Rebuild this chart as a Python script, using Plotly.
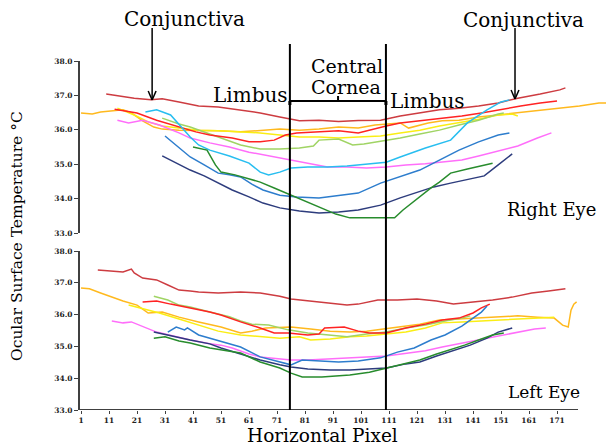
import plotly.graph_objects as go

# ---------------- data (horizontal pixel index, temperature °C) ----------------
x_ticks = [1, 11, 21, 31, 41, 51, 61, 71, 81, 91, 101, 111, 121, 131, 141, 151, 161, 171]
y_ticks = [33.0, 34.0, 35.0, 36.0, 37.0, 38.0]

# Right eye (top panel)
re_darkred_x = [10, 15, 20, 26, 30, 36, 43, 50, 58, 65, 72, 79, 86, 93, 100, 108, 115, 122, 129, 136, 143, 150, 157, 165, 172, 174]
re_darkred_t = [37.04, 36.98, 36.92, 36.87, 36.90, 36.81, 36.69, 36.66, 36.58, 36.49, 36.37, 36.26, 36.28, 36.24, 36.27, 36.28, 36.40, 36.49, 36.58, 36.63, 36.69, 36.78, 36.92, 37.04, 37.16, 37.22]
re_red_x = [13, 17, 21, 28, 36, 42, 47, 55, 61, 65, 70, 74, 78, 86, 93, 100, 105, 110, 115, 122, 130, 137, 144, 151, 158, 165, 171]
re_red_t = [36.60, 36.55, 36.49, 36.28, 36.08, 35.94, 35.85, 35.76, 35.65, 35.65, 35.70, 35.85, 35.91, 35.94, 35.97, 35.91, 36.02, 36.11, 36.20, 36.26, 36.34, 36.40, 36.49, 36.60, 36.69, 36.78, 36.84]
re_orange_x = [1, 5, 8, 13, 16, 19, 23, 27, 30, 36, 43, 50, 58, 65, 72, 79, 86, 93, 100, 106, 110, 115, 118, 121, 125, 130, 136, 143, 150, 157, 165, 172, 179, 186, 191]
re_orange_t = [36.49, 36.46, 36.52, 36.55, 36.58, 36.49, 36.26, 36.08, 36.02, 35.99, 35.99, 35.97, 35.94, 35.99, 36.02, 35.99, 36.02, 36.08, 36.05, 36.14, 36.17, 36.20, 36.05, 36.11, 36.20, 36.26, 36.28, 36.37, 36.43, 36.49, 36.58, 36.63, 36.69, 36.78, 36.78]
re_yellow_x = [14, 20, 25, 30, 36, 43, 50, 58, 65, 72, 79, 86, 93, 100, 108, 115, 122, 129, 136, 143, 150, 155, 157]
re_yellow_t = [36.63, 36.43, 36.23, 36.11, 36.05, 35.99, 35.97, 35.94, 35.91, 35.85, 35.79, 35.79, 35.76, 35.79, 35.82, 35.91, 35.99, 36.11, 36.20, 36.31, 36.43, 36.46, 36.40]
re_lightgreen_x = [30, 36, 40, 43, 50, 58, 65, 72, 79, 84, 86, 93, 98, 102, 108, 115, 122, 129, 136, 143, 150, 152]
re_lightgreen_t = [36.34, 36.17, 36.08, 35.99, 35.79, 35.56, 35.44, 35.44, 35.47, 35.53, 35.70, 35.73, 35.56, 35.59, 35.67, 35.76, 35.88, 35.99, 36.14, 36.28, 36.46, 36.49]
re_pink_x = [14, 18, 23, 29, 36, 40, 47, 54, 61, 68, 75, 82, 89, 96, 103, 110, 117, 124, 131, 137, 143, 150, 157, 164, 169]
re_pink_t = [36.28, 36.20, 36.28, 36.14, 35.91, 35.76, 35.62, 35.50, 35.35, 35.24, 35.12, 35.01, 34.92, 34.92, 34.89, 34.92, 34.98, 35.01, 35.06, 35.12, 35.24, 35.38, 35.53, 35.76, 35.91]
re_lightblue_x = [24, 28, 33, 37, 40, 43, 47, 54, 61, 65, 68, 72, 76, 82, 89, 96, 103, 110, 115, 124, 133, 139, 146, 151, 154]
re_lightblue_t = [36.52, 36.58, 36.43, 36.08, 35.79, 35.56, 35.41, 35.24, 35.03, 34.77, 34.69, 34.77, 34.89, 34.92, 34.92, 34.95, 35.01, 35.06, 35.21, 35.47, 35.70, 36.20, 36.58, 36.81, 36.87]
re_blue_x = [31, 35, 40, 45, 50, 54, 58, 62, 66, 72, 78, 86, 93, 100, 108, 115, 122, 129, 136, 143, 150, 154]
re_blue_t = [35.82, 35.56, 35.21, 34.98, 34.74, 34.69, 34.63, 34.42, 34.25, 34.10, 34.05, 34.02, 34.08, 34.16, 34.45, 34.63, 34.83, 35.12, 35.41, 35.65, 35.85, 35.91]
re_navy_x = [30, 36, 40, 45, 50, 55, 61, 66, 72, 79, 86, 93, 100, 108, 115, 121, 127, 133, 139, 145, 150, 155]
re_navy_t = [35.24, 34.98, 34.83, 34.66, 34.45, 34.25, 34.05, 33.87, 33.73, 33.64, 33.58, 33.61, 33.67, 33.81, 34.02, 34.19, 34.34, 34.45, 34.55, 34.66, 34.98, 35.30]
re_green_x = [41, 44, 46, 49, 51, 56, 61, 65, 70, 76, 82, 87, 92, 97, 103, 109, 113, 116, 119, 122, 126, 129, 133, 139, 145, 148]
re_green_t = [35.50, 35.44, 35.41, 34.98, 34.77, 34.69, 34.57, 34.48, 34.31, 34.10, 33.90, 33.73, 33.55, 33.44, 33.44, 33.44, 33.44, 33.67, 33.87, 34.05, 34.31, 34.48, 34.74, 34.86, 34.98, 35.03]

# Left eye (bottom panel)
le_darkred_x = [7, 13, 16, 19, 20, 23, 28, 32, 36, 40, 43, 50, 58, 65, 72, 76, 82, 89, 96, 100, 107, 114, 121, 128, 134, 141, 148, 155, 162, 168, 174]
le_darkred_t = [37.40, 37.37, 37.34, 37.43, 37.31, 37.15, 37.09, 36.93, 36.77, 36.74, 36.71, 36.68, 36.71, 36.68, 36.58, 36.49, 36.43, 36.36, 36.30, 36.33, 36.46, 36.46, 36.49, 36.43, 36.33, 36.40, 36.46, 36.55, 36.68, 36.74, 36.81]
le_orange_x = [1, 4, 8, 12, 16, 21, 25, 30, 36, 43, 51, 58, 62, 67, 76, 83, 90, 97, 103, 109, 115, 122, 129, 136, 143, 150, 157, 164, 170, 173, 175, 176, 177, 178]
le_orange_t = [36.84, 36.81, 36.68, 36.55, 36.43, 36.30, 36.05, 36.08, 35.92, 35.77, 35.61, 35.42, 35.48, 35.58, 35.61, 35.55, 35.48, 35.45, 35.48, 35.55, 35.61, 35.70, 35.83, 35.86, 35.89, 35.92, 35.96, 35.92, 35.89, 35.67, 35.61, 36.14, 36.33, 36.40]
le_yellow_x = [18, 22, 29, 36, 43, 50, 58, 65, 72, 79, 83, 90, 97, 103, 110, 117, 124, 130, 137, 144, 150, 157, 164, 170]
le_yellow_t = [36.30, 36.21, 36.05, 35.86, 35.67, 35.48, 35.36, 35.30, 35.26, 35.30, 35.20, 35.23, 35.30, 35.33, 35.39, 35.45, 35.58, 35.74, 35.77, 35.80, 35.83, 35.86, 35.89, 35.92]
le_lightgreen_x = [27, 32, 36, 40, 47, 54, 58, 62, 68, 75, 82, 89, 96, 103, 110, 117, 124, 131, 137, 140]
le_lightgreen_t = [36.58, 36.46, 36.30, 36.24, 36.08, 35.93, 35.80, 35.70, 35.67, 35.52, 35.42, 35.36, 35.30, 35.39, 35.45, 35.58, 35.67, 35.80, 35.89, 35.96]
le_red_x = [23, 28, 33, 40, 47, 51, 58, 65, 70, 75, 82, 86, 88, 95, 100, 104, 110, 117, 124, 130, 136, 141, 144, 147]
le_red_t = [36.40, 36.43, 36.33, 36.21, 36.08, 35.99, 35.77, 35.58, 35.42, 35.42, 35.36, 35.39, 35.58, 35.61, 35.48, 35.42, 35.42, 35.58, 35.70, 35.83, 35.89, 36.05, 36.21, 36.33]
le_pink_x = [12, 16, 19, 22, 28, 34, 40, 47, 51, 55, 61, 65, 72, 76, 82, 89, 97, 104, 110, 118, 124, 130, 136, 143, 150, 157, 163, 167]
le_pink_t = [35.80, 35.74, 35.77, 35.67, 35.45, 35.33, 35.20, 35.08, 35.04, 34.95, 34.76, 34.67, 34.60, 34.57, 34.57, 34.60, 34.64, 34.67, 34.70, 34.79, 34.86, 34.98, 35.08, 35.20, 35.33, 35.45, 35.55, 35.58]
le_blue_x = [32, 35, 38, 39, 43, 47, 51, 58, 65, 72, 76, 80, 87, 93, 100, 108, 114, 120, 126, 131, 137, 141, 144, 146]
le_blue_t = [35.45, 35.61, 35.52, 35.58, 35.36, 35.26, 35.14, 34.98, 34.67, 34.51, 34.42, 34.57, 34.54, 34.51, 34.54, 34.64, 34.82, 34.95, 35.20, 35.36, 35.64, 35.89, 36.08, 36.27]
le_navy_x = [27, 33, 40, 47, 51, 58, 65, 72, 76, 82, 90, 97, 104, 110, 117, 122, 128, 134, 140, 146, 150, 155]
le_navy_t = [35.45, 35.33, 35.20, 35.08, 34.95, 34.76, 34.57, 34.42, 34.35, 34.29, 34.26, 34.26, 34.29, 34.32, 34.45, 34.51, 34.70, 34.86, 35.04, 35.26, 35.45, 35.58]
le_green_x = [27, 31, 36, 40, 47, 51, 58, 65, 72, 76, 80, 87, 93, 97, 104, 110, 117, 122, 128, 133, 138, 143, 148, 152]
le_green_t = [35.26, 35.30, 35.17, 35.11, 34.95, 34.89, 34.79, 34.51, 34.32, 34.16, 34.04, 34.04, 34.07, 34.10, 34.19, 34.32, 34.45, 34.57, 34.76, 34.89, 35.04, 35.20, 35.36, 35.42]

colors = {
    "darkred": "rgb(205,60,65)",
    "red": "rgb(255,35,35)",
    "orange": "rgb(255,185,30)",
    "yellow": "rgb(250,238,20)",
    "lightgreen": "rgb(160,212,100)",
    "pink": "rgb(255,110,250)",
    "lightblue": "rgb(40,190,240)",
    "blue": "rgb(45,125,205)",
    "navy": "rgb(45,60,125)",
    "green": "rgb(40,140,45)",
}

right_eye = [
    ("darkred", re_darkred_x, re_darkred_t), ("orange", re_orange_x, re_orange_t),
    ("yellow", re_yellow_x, re_yellow_t), ("lightgreen", re_lightgreen_x, re_lightgreen_t),
    ("red", re_red_x, re_red_t), ("pink", re_pink_x, re_pink_t),
    ("lightblue", re_lightblue_x, re_lightblue_t), ("blue", re_blue_x, re_blue_t),
    ("navy", re_navy_x, re_navy_t), ("green", re_green_x, re_green_t),
]
left_eye = [
    ("darkred", le_darkred_x, le_darkred_t), ("orange", le_orange_x, le_orange_t),
    ("yellow", le_yellow_x, le_yellow_t), ("lightgreen", le_lightgreen_x, le_lightgreen_t),
    ("red", le_red_x, le_red_t), ("pink", le_pink_x, le_pink_t),
    ("blue", le_blue_x, le_blue_t), ("navy", le_navy_x, le_navy_t),
    ("green", le_green_x, le_green_t),
]

# page is shown with an 8px body margin, so the figure is offset by OFF
W, H, OFF = 614, 448, 8
FW, FH = W - OFF, H - OFF
L = 80            # left edge of plot area in screen pixels
PW = W - L        # plot width


def py(p):  # screen pixel row -> paper fraction
    return (H - p) / FH


def pxp(p):  # screen pixel column -> paper fraction
    return (p - L) / PW


SERIF = "DejaVu Serif"
AX = "#404040"

fig = go.Figure()
for name, xs, ts in right_eye:
    fig.add_trace(go.Scatter(x=xs, y=ts, mode="lines", xaxis="x2", yaxis="y2",
                             line=dict(color=colors[name], width=1.5), showlegend=False))
for name, xs, ts in left_eye:
    fig.add_trace(go.Scatter(x=xs, y=ts, mode="lines", xaxis="x", yaxis="y",
                             line=dict(color=colors[name], width=1.5), showlegend=False))

xr = [0.64, 0.64 + PW / 2.8]
tickfont = dict(family=SERIF, size=7.5, color="#222", weight="bold")
yax = dict(range=[33, 38], tickvals=y_ticks, tickformat=".1f", showgrid=False, zeroline=False,
           showline=True, linecolor=AX, linewidth=2, ticks="outside", ticklen=4, tickwidth=1,
           tickcolor=AX, tickfont=tickfont, automargin=False)

fig.update_layout(
    width=FW, height=FH, autosize=False,
    margin=dict(l=L - OFF, r=0, t=0, b=0, pad=0, autoexpand=False),
    paper_bgcolor="white", plot_bgcolor="white",
    xaxis=dict(domain=[0, 1], range=xr, anchor="y", tickvals=x_ticks, showgrid=False,
               zeroline=False, showline=False, ticks="outside", ticklen=3, tickcolor=AX,
               tickfont=tickfont, automargin=False),
    xaxis2=dict(domain=[0, 1], range=xr, anchor="y2", matches="x", visible=False,
                automargin=False),
    yaxis=dict(domain=[py(410), py(251)], anchor="x", **yax),
    yaxis2=dict(domain=[py(233), py(61)], anchor="x2", **yax),
)

shapes = []
# bottom x-axis line
shapes.append(dict(type="line", xref="x", yref="y", x0=xr[0], x1=178.5, y0=33, y1=33,
                   line=dict(color=AX, width=2)))
# cornea boundary lines
for xv in (75.6, 109.9):
    shapes.append(dict(type="line", xref="x", yref="paper", x0=xv, x1=xv, y0=py(410), y1=py(44),
                       line=dict(color="black", width=2)))
# bracket
shapes.append(dict(type="line", xref="x", yref="paper", x0=75.6, x1=109.9, y0=py(101), y1=py(101),
                   line=dict(color="black", width=2)))
shapes.append(dict(type="line", xref="x", yref="paper", x0=92.8, x1=92.8, y0=py(101), y1=py(96),
                   line=dict(color="black", width=2)))
for xv in (75.6, 109.9):
    shapes.append(dict(type="line", xref="x", yref="paper", x0=xv, x1=xv, y0=py(101), y1=py(105),
                       line=dict(color="black", width=3)))
# conjunctiva arrows
for xv, tip in ((26.4, 100), (156.0, 99)):
    shapes.append(dict(type="line", xref="x", yref="paper", x0=xv, x1=xv, y0=py(28), y1=py(tip),
                       line=dict(color="black", width=1.5)))
    for d in (-1.4, 1.4):
        shapes.append(dict(type="line", xref="x", yref="paper", x0=xv + d, x1=xv, y0=py(tip - 9),
                           y1=py(tip), line=dict(color="black", width=1.5)))
fig.update_layout(shapes=shapes)

anns = [
    ("Conjunctiva", 38.1, 19, 20), ("Conjunctiva", 159.2, 20, 20),
    ("Limbus", 61.4, 95, 20), ("Central", 96.0, 66, 19), ("Cornea", 95.6, 87, 19),
    ("Limbus", 124.6, 101, 20), ("Right Eye", 168.9, 209, 18), ("Left Eye", 166.4, 392, 17),
]
for text, xv, p, sz in anns:
    fig.add_annotation(text=text, x=xv, y=py(p), xref="x", yref="paper", showarrow=False,
                       xanchor="center", yanchor="middle",
                       font=dict(family=SERIF, size=sz, color="black"))
fig.add_annotation(text="Horizontal Pixel", x=pxp(322), y=py(435.5), xref="paper",
                   yref="paper", showarrow=False, xanchor="center", yanchor="middle",
                   font=dict(family=SERIF, size=18.5, color="black"))
fig.add_annotation(text="Ocular Surface Temperature °C", x=pxp(17), y=py(236),
                   xref="paper", yref="paper", showarrow=False, textangle=-90, xanchor="center",
                   yanchor="middle", font=dict(family=SERIF, size=15.5, color="black"))

fig.write_html("out.html")
